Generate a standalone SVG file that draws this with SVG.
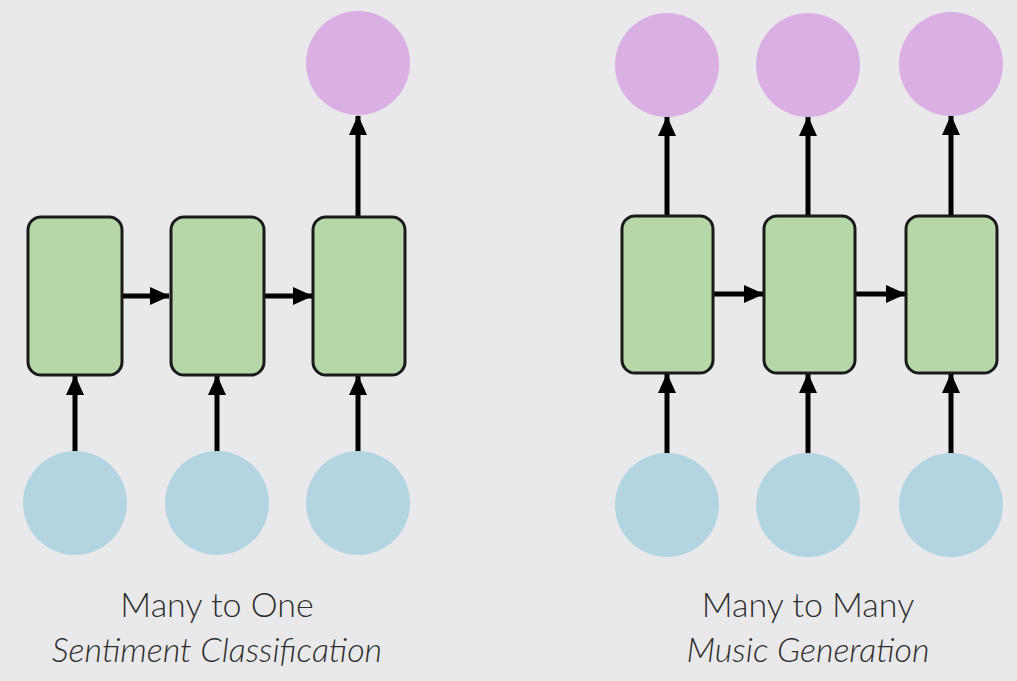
<svg xmlns="http://www.w3.org/2000/svg" width="1017" height="681" viewBox="0 0 1017 681">
<defs>
<marker id="ah" viewBox="0 0 10 10" refX="9.5" refY="5" markerWidth="20" markerHeight="20" markerUnits="userSpaceOnUse" orient="auto">
<path d="M0,0.5 L10,5 L0,9.5 z" fill="#000"/>
</marker>
<style>
.cell{fill:#b6d7a8;stroke:#1a1a1a;stroke-width:3}
.in{fill:#b3d4e1}
.out{fill:#d9afe4}
.conn line{stroke:#000;stroke-width:5;marker-end:url(#ah)}
.t{font-family:Lato,"Liberation Sans",sans-serif;font-weight:300;font-size:34px;fill:#2e2e2e;text-anchor:middle}
.i{font-style:italic}
</style>
</defs>
<rect width="1017" height="681" fill="#e9e9eb"/>
<g class="conn">
<line x1="122" y1="296" x2="169" y2="296"/>
<line x1="264" y1="296" x2="312" y2="296"/>
<line x1="75" y1="452" x2="75" y2="376"/>
<line x1="217" y1="452" x2="217" y2="376"/>
<line x1="358" y1="452" x2="358" y2="376"/>
<line x1="358" y1="216" x2="358" y2="116"/>
<line x1="713" y1="294" x2="763" y2="294"/>
<line x1="855" y1="294" x2="905" y2="294"/>
<line x1="667" y1="454" x2="667" y2="374"/>
<line x1="808" y1="454" x2="808" y2="374"/>
<line x1="951" y1="454" x2="951" y2="374"/>
<line x1="667" y1="216" x2="667" y2="117"/>
<line x1="808" y1="216" x2="808" y2="117"/>
<line x1="951" y1="216" x2="951" y2="116"/>
</g>
<g id="x1"><circle class="in" cx="75" cy="503" r="52"/></g>
<g id="x2"><circle class="in" cx="217" cy="503" r="52"/></g>
<g id="x3"><circle class="in" cx="358" cy="503" r="52"/></g>
<g id="h1"><rect class="cell" x="28" y="217" width="94" height="158" rx="13"/></g>
<g id="h2"><rect class="cell" x="171" y="217" width="93" height="158" rx="13"/></g>
<g id="h3"><rect class="cell" x="313" y="217" width="92" height="158" rx="13"/></g>
<g id="y1"><circle class="out" cx="358" cy="63" r="52"/></g>
<g id="x4"><circle class="in" cx="667" cy="505" r="52"/></g>
<g id="x5"><circle class="in" cx="808" cy="505" r="52"/></g>
<g id="x6"><circle class="in" cx="951" cy="505" r="52"/></g>
<g id="h4"><rect class="cell" x="622" y="216" width="91" height="157" rx="13"/></g>
<g id="h5"><rect class="cell" x="764" y="216" width="91" height="157" rx="13"/></g>
<g id="h6"><rect class="cell" x="906" y="216" width="91" height="157" rx="13"/></g>
<g id="y2"><circle class="out" cx="667" cy="65" r="52"/></g>
<g id="y3"><circle class="out" cx="808" cy="65" r="52"/></g>
<g id="y4"><circle class="out" cx="951" cy="64" r="52"/></g>
<g id="label1">
<text class="t" x="217" y="617">Many to One</text>
<text class="t i" x="217" y="662">Sentiment Classification</text>
</g>
<g id="label2">
<text class="t" x="808" y="617">Many to Many</text>
<text class="t i" x="808" y="662">Music Generation</text>
</g>
</svg>
